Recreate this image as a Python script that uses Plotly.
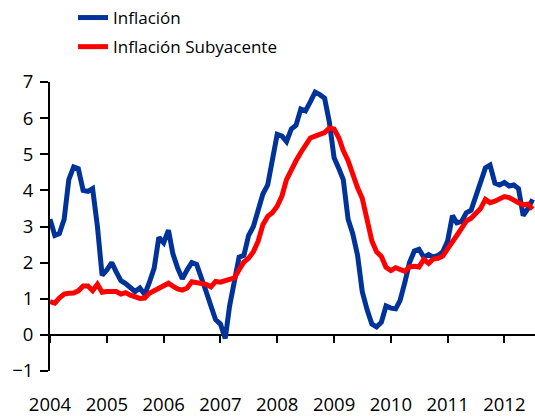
import pandas as pd
import plotly.graph_objects as go

# Monthly data, January 2004 to July 2012
months = pd.date_range("2004-01-01", periods=103, freq="MS")

inflacion = [
    3.20, 2.75, 2.80, 3.20, 4.30, 4.65, 4.60, 4.00, 3.97, 4.05, 3.00, 1.65,  # 2004
    1.80, 2.00, 1.75, 1.50, 1.42, 1.30, 1.20, 1.30, 1.12, 1.45, 1.85, 2.70,  # 2005
    2.55, 2.90, 2.25, 1.85, 1.55, 1.80, 2.00, 1.95, 1.60, 1.20, 0.80, 0.42,  # 2006
    0.30, -0.10, 0.80, 1.45, 2.15, 2.20, 2.75, 3.00, 3.44, 3.90, 4.15, 4.80,  # 2007
    5.55, 5.50, 5.35, 5.70, 5.80, 6.25, 6.20, 6.45, 6.72, 6.65, 6.55, 5.90,  # 2008
    4.90, 4.60, 4.30, 3.20, 2.80, 2.20, 1.20, 0.70, 0.30, 0.22, 0.35, 0.80,  # 2009
    0.74, 0.72, 0.95, 1.45, 2.00, 2.32, 2.37, 2.15, 2.22, 2.15, 2.20, 2.30,  # 2010
    2.60, 3.30, 3.10, 3.14, 3.38, 3.45, 3.80, 4.25, 4.62, 4.70, 4.20, 4.15,  # 2011
    4.22, 4.12, 4.15, 4.05, 3.30, 3.50, 3.75,                                # 2012
]

subyacente = [
    0.92, 0.88, 1.02, 1.13, 1.15, 1.16, 1.22, 1.35, 1.35, 1.22, 1.40, 1.18,  # 2004
    1.20, 1.20, 1.20, 1.13, 1.17, 1.10, 1.05, 1.01, 1.02, 1.15, 1.22, 1.30,  # 2005
    1.38, 1.43, 1.35, 1.27, 1.24, 1.30, 1.47, 1.44, 1.42, 1.40, 1.33, 1.48,  # 2006
    1.46, 1.50, 1.51, 1.58, 1.80, 2.02, 2.12, 2.30, 2.60, 3.05, 3.28, 3.38,  # 2007
    3.56, 3.85, 4.30, 4.60, 4.82, 5.05, 5.25, 5.45, 5.50, 5.54, 5.60, 5.72,  # 2008
    5.70, 5.45, 5.10, 4.82, 4.42, 4.07, 3.78, 3.20, 2.60, 2.30, 2.17, 1.87,  # 2009
    1.78, 1.86, 1.82, 1.76, 1.88, 1.90, 1.88, 2.09, 1.98, 2.10, 2.12, 2.18,  # 2010
    2.38, 2.55, 2.75, 2.95, 3.15, 3.23, 3.35, 3.50, 3.75, 3.66, 3.70, 3.78,  # 2011
    3.83, 3.80, 3.75, 3.66, 3.60, 3.62, 3.48,                                # 2012
]

series_names = ["Inflación", "Inflación Subyacente"]
series_colors = ["#003399", "#ff0000"]
y_ticks = [-1, 0, 1, 2, 3, 4, 5, 6, 7]
x_range = ["2004-01-01", "2012-07-16"]

FONT = "Open Sans"
TEXT = "#000000"

fig = go.Figure()
fig.add_trace(go.Scatter(x=months, y=inflacion, mode="lines", name=series_names[0],
                         line=dict(color=series_colors[0], width=5), legendgroup="a"))
fig.add_trace(go.Scatter(x=months, y=subyacente, mode="lines", name=series_names[1],
                         line=dict(color=series_colors[1], width=5), legendgroup="b"))
# helper trace so the label axis is rendered
fig.add_trace(go.Scatter(x=[months[0]], y=[None], xaxis="x2", showlegend=False,
                         hoverinfo="skip", mode="lines"))

fig.update_layout(
    width=535, height=416,
    margin=dict(l=50, r=0, t=82, b=45, pad=0, autoexpand=False),
    paper_bgcolor="white", plot_bgcolor="white",
    font=dict(family=FONT, color=TEXT),
    showlegend=True,
    legend=dict(x=(73 - 50) / 485, xanchor="left", y=1 + (82 - 0) / 289, yanchor="top",
                font=dict(family=FONT, size=17, color=TEXT),
                bgcolor="rgba(0,0,0,0)", traceorder="grouped", tracegroupgap=4),
    xaxis=dict(type="date", range=x_range, anchor="free", position=1 / 8,
               showline=True, linecolor="black", linewidth=2,
               ticks="outside", ticklen=7, tickwidth=2, tickcolor="black",
               tick0="2004-01-01", dtick="M12", showticklabels=False,
               showgrid=False, zeroline=False, layer="below traces"),
    xaxis2=dict(type="date", range=x_range, overlaying="x", anchor="y", side="bottom",
                showline=False, ticks="", tick0="2004-01-01", dtick="M12",
                tickformat="%Y", showgrid=False, zeroline=False,
                tickfont=dict(family=FONT, size=18.5, color=TEXT),
                ticklabelstandoff=20),
    yaxis=dict(range=[-1, 7], tickvals=y_ticks, showline=True, linecolor="black",
               linewidth=2, ticks="outside", ticklen=8, tickwidth=2, tickcolor="black",
               showgrid=False, zeroline=False,
               tickfont=dict(family=FONT, size=18.5, color=TEXT),
               ticklabelstandoff=3),
)

fig.write_html("out.html", config={"displayModeBar": False},
               post_script="document.body.style.margin='0';")
